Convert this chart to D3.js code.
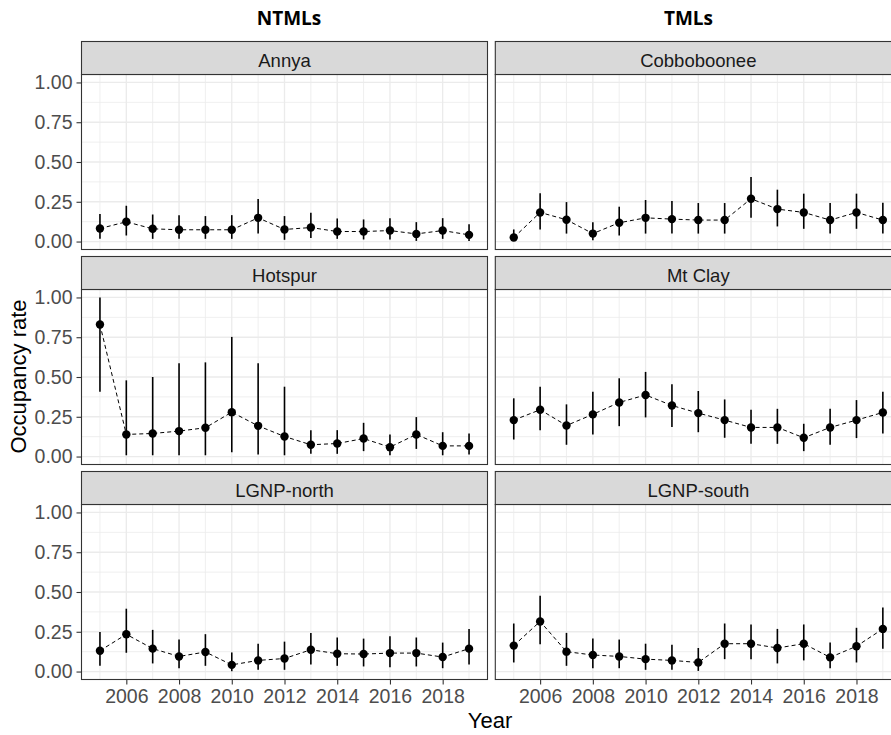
<!DOCTYPE html>
<html>
<head>
<meta charset="utf-8">
<script src="https://cdn.jsdelivr.net/npm/d3@7"></script>
<style>
  html, body { margin: 0; padding: 0; background: #ffffff; }
  svg { display: block; }
</style>
</head>
<body>
<div id="chart"></div>
<script>
// Occupancy rate by year for six sites, with 95% intervals
const years = d3.range(2005, 2020);
const columnTitles = ["NTMLs", "TMLs"];
const siteNames = ["Annya", "Cobboboonee", "Hotspur", "Mt Clay", "LGNP-north", "LGNP-south"];
const yTicks = [0, 0.25, 0.5, 0.75, 1];
const yMinor = [0.125, 0.375, 0.625, 0.875];
const xTicks = [2006, 2008, 2010, 2012, 2014, 2016, 2018];
const xMinor = [2005, 2007, 2009, 2011, 2013, 2015, 2017, 2019];

const annyaMean  = [0.082,0.124,0.080,0.074,0.074,0.074,0.149,0.076,0.088,0.063,0.063,0.069,0.048,0.069,0.042];
const annyaLow   = [0.017,0.038,0.017,0.017,0.017,0.017,0.050,0.011,0.023,0.017,0.013,0.013,0.004,0.017,0.004];
const annyaHigh  = [0.173,0.225,0.170,0.166,0.160,0.166,0.267,0.160,0.181,0.145,0.139,0.147,0.122,0.147,0.109];

const cobbMean   = [0.025,0.183,0.137,0.050,0.118,0.149,0.141,0.135,0.135,0.269,0.204,0.183,0.135,0.183,0.135];
const cobbLow    = [0.004,0.076,0.050,0.008,0.038,0.050,0.050,0.050,0.050,0.149,0.095,0.080,0.050,0.080,0.050];
const cobbHigh   = [0.076,0.303,0.248,0.122,0.219,0.261,0.255,0.242,0.242,0.406,0.326,0.301,0.242,0.301,0.244];

const hotspurMean = [0.830,0.139,0.145,0.160,0.181,0.279,0.193,0.126,0.074,0.082,0.113,0.059,0.139,0.067,0.067];
const hotspurLow  = [0.408,0.008,0.008,0.008,0.008,0.027,0.013,0.008,0.017,0.017,0.034,0.008,0.048,0.008,0.013];
const hotspurHigh = [1.000,0.479,0.500,0.586,0.592,0.752,0.586,0.439,0.166,0.166,0.212,0.139,0.248,0.153,0.145];

const mtClayMean = [0.229,0.294,0.195,0.265,0.340,0.387,0.321,0.273,0.229,0.183,0.183,0.118,0.183,0.229,0.277];
const mtClayLow  = [0.107,0.166,0.074,0.139,0.191,0.246,0.185,0.153,0.118,0.080,0.080,0.034,0.074,0.116,0.145];
const mtClayHigh = [0.366,0.439,0.328,0.408,0.492,0.532,0.454,0.412,0.359,0.294,0.300,0.206,0.300,0.355,0.408];

const northMean  = [0.131,0.234,0.144,0.095,0.123,0.042,0.070,0.082,0.137,0.112,0.110,0.116,0.116,0.091,0.144];
const northLow   = [0.036,0.118,0.051,0.021,0.036,0.002,0.011,0.011,0.044,0.036,0.032,0.027,0.032,0.021,0.044];
const northHigh  = [0.249,0.395,0.262,0.201,0.235,0.120,0.175,0.188,0.243,0.214,0.207,0.222,0.214,0.182,0.268];

const southMean  = [0.163,0.315,0.125,0.104,0.095,0.078,0.070,0.057,0.175,0.175,0.148,0.175,0.089,0.159,0.268];
const southLow   = [0.057,0.171,0.036,0.021,0.021,0.011,0.011,0.004,0.078,0.078,0.051,0.070,0.021,0.057,0.144];
const southHigh  = [0.302,0.476,0.243,0.207,0.201,0.175,0.169,0.148,0.302,0.296,0.268,0.296,0.182,0.275,0.402];

const panels = [
  { name: siteNames[0], row: 0, col: 0, mean: annyaMean,   low: annyaLow,   high: annyaHigh },
  { name: siteNames[1], row: 0, col: 1, mean: cobbMean,    low: cobbLow,    high: cobbHigh },
  { name: siteNames[2], row: 1, col: 0, mean: hotspurMean, low: hotspurLow, high: hotspurHigh },
  { name: siteNames[3], row: 1, col: 1, mean: mtClayMean,  low: mtClayLow,  high: mtClayHigh },
  { name: siteNames[4], row: 2, col: 0, mean: northMean,   low: northLow,   high: northHigh },
  { name: siteNames[5], row: 2, col: 1, mean: southMean,   low: southLow,   high: southHigh }
];

const W = 891, H = 735;
const colLeft = [81.5, 495.3];
const panelW = 406;
const rowTop0 = 41.5, rowPitch = 215, stripH = 33, plotH = 175;
const titleX = [289, 688.5];

const svg = d3.select("#chart").append("svg")
  .attr("width", W).attr("height", H)
  .attr("viewBox", `0 0 ${W} ${H}`);

svg.append("rect").attr("width", W).attr("height", H).attr("fill", "#ffffff");

const axisFont = "'Liberation Sans', Arial, sans-serif";

// column headings
svg.selectAll("text.coltitle").data(columnTitles).enter().append("text")
  .attr("class", "coltitle")
  .attr("x", (d, i) => titleX[i])
  .attr("y", 25)
  .attr("text-anchor", "middle")
  .attr("font-family", "'Open Sans', 'Noto Sans', sans-serif")
  .attr("font-weight", "bold")
  .attr("font-size", 19)
  .attr("fill", "#000000")
  .text(d => d);

panels.forEach(p => {
  const x0 = colLeft[p.col];
  const stripTop = rowTop0 + p.row * rowPitch;
  const plotTop = stripTop + stripH;
  const plotBottom = plotTop + plotH;

  const x = d3.scaleLinear().domain([2004.3, 2019.7]).range([x0, x0 + panelW]);
  const y = d3.scaleLinear().domain([-0.05, 1.05]).range([plotBottom, plotTop]);

  const g = svg.append("g");

  // panel background
  g.append("rect")
    .attr("x", x0).attr("y", plotTop)
    .attr("width", panelW).attr("height", plotH)
    .attr("fill", "#ffffff");

  // minor grid
  g.selectAll("line.ymin").data(yMinor).enter().append("line")
    .attr("x1", x0).attr("x2", x0 + panelW)
    .attr("y1", d => y(d)).attr("y2", d => y(d))
    .attr("stroke", "#EBEBEB").attr("stroke-width", 0.8);
  g.selectAll("line.xmin").data(xMinor).enter().append("line")
    .attr("x1", d => x(d)).attr("x2", d => x(d))
    .attr("y1", plotTop).attr("y2", plotBottom)
    .attr("stroke", "#EBEBEB").attr("stroke-width", 0.8);
  // major grid
  g.selectAll("line.ymaj").data(yTicks).enter().append("line")
    .attr("x1", x0).attr("x2", x0 + panelW)
    .attr("y1", d => y(d)).attr("y2", d => y(d))
    .attr("stroke", "#EBEBEB").attr("stroke-width", 1.3);
  g.selectAll("line.xmaj").data(xTicks).enter().append("line")
    .attr("x1", d => x(d)).attr("x2", d => x(d))
    .attr("y1", plotTop).attr("y2", plotBottom)
    .attr("stroke", "#EBEBEB").attr("stroke-width", 1.3);

  const pts = years.map((yr, i) => ({ year: yr, mean: p.mean[i], low: p.low[i], high: p.high[i] }));

  // dashed trend line
  g.append("path")
    .datum(pts)
    .attr("fill", "none")
    .attr("stroke", "#000000")
    .attr("stroke-width", 1)
    .attr("stroke-dasharray", "4,3")
    .attr("d", d3.line().x(d => x(d.year)).y(d => y(d.mean)));

  // interval bars
  g.selectAll("line.err").data(pts).enter().append("line")
    .attr("x1", d => x(d.year)).attr("x2", d => x(d.year))
    .attr("y1", d => y(d.low)).attr("y2", d => y(d.high))
    .attr("stroke", "#000000").attr("stroke-width", 1.6);

  // points
  g.selectAll("circle").data(pts).enter().append("circle")
    .attr("cx", d => x(d.year)).attr("cy", d => y(d.mean))
    .attr("r", 4.2).attr("fill", "#000000");

  // panel border
  g.append("rect")
    .attr("x", x0).attr("y", plotTop)
    .attr("width", panelW).attr("height", plotH)
    .attr("fill", "none").attr("stroke", "#333333").attr("stroke-width", 1.1);

  // strip
  g.append("rect")
    .attr("x", x0).attr("y", stripTop)
    .attr("width", panelW).attr("height", stripH)
    .attr("fill", "#D9D9D9").attr("stroke", "#333333").attr("stroke-width", 1.1);
  g.append("text")
    .attr("x", x0 + panelW / 2).attr("y", stripTop + 25)
    .attr("text-anchor", "middle")
    .attr("font-family", axisFont)
    .attr("font-size", 18.5)
    .attr("fill", "#1A1A1A")
    .text(p.name);

  // y axis on left column
  if (p.col === 0) {
    const ya = d3.axisLeft(y).tickValues(yTicks).tickFormat(d3.format(".2f"))
      .tickSize(5).tickPadding(4);
    const ag = g.append("g").attr("transform", `translate(${x0},0)`).call(ya);
    ag.select(".domain").remove();
    ag.selectAll(".tick line").attr("stroke", "#333333").attr("stroke-width", 1.1);
    ag.selectAll(".tick text")
      .attr("font-family", axisFont).attr("font-size", 19.5)
      .attr("fill", "#4D4D4D");
  }
  // x axis on bottom row
  if (p.row === 2) {
    const xa = d3.axisBottom(x).tickValues(xTicks).tickFormat(d3.format("d"))
      .tickSize(5).tickPadding(5);
    const ag = g.append("g").attr("transform", `translate(0,${plotBottom})`).call(xa);
    ag.select(".domain").remove();
    ag.selectAll(".tick line").attr("stroke", "#333333").attr("stroke-width", 1.1);
    ag.selectAll(".tick text")
      .attr("font-family", axisFont).attr("font-size", 19.5)
      .attr("fill", "#4D4D4D");
  }
});

// axis titles
svg.append("text")
  .attr("x", 490).attr("y", 728)
  .attr("text-anchor", "middle")
  .attr("font-family", axisFont)
  .attr("font-size", 22)
  .attr("fill", "#000000")
  .text("Year");

svg.append("text")
  .attr("transform", "translate(26,376.5) rotate(-90)")
  .attr("text-anchor", "middle")
  .attr("font-family", axisFont)
  .attr("font-size", 22)
  .attr("fill", "#000000")
  .text("Occupancy rate");
</script>
</body>
</html>
